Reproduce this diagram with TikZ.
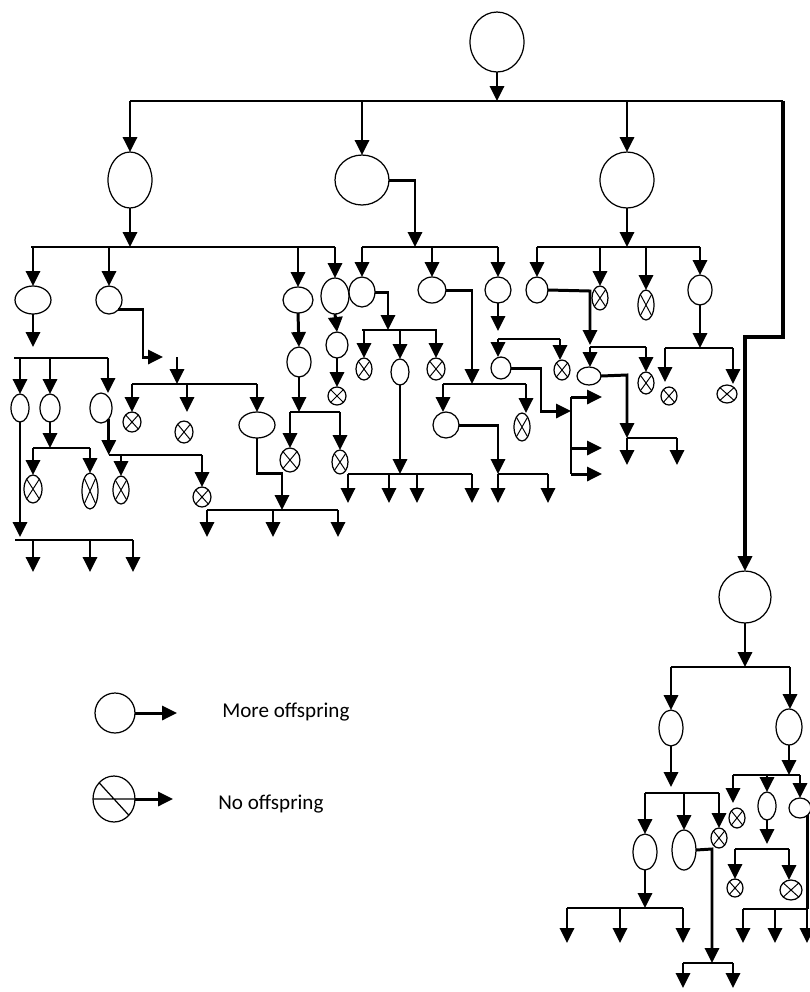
\documentclass[tikz,border=0pt]{standalone}
\usepackage{fontspec}
\setmainfont{Carlito}
\usetikzlibrary{arrows.meta,shapes.geometric}
\begin{document}
\begin{tikzpicture}[x=0.02cm,y=-0.02cm,
  ov/.style 2 args={draw, ellipse, line width=0.7pt, inner sep=0pt, outer sep=0pt, minimum width={#1*0.04cm}, minimum height={#2*0.04cm}},
  ox/.style 2 args={ov={#1}{#2}, path picture={\draw[line width=0.55pt] (path picture bounding box.north west) -- (path picture bounding box.south east) (path picture bounding box.north east) -- (path picture bounding box.south west);}},
  arr/.style={line width=1.7pt, -{Triangle[length=8.5pt,width=8pt]}},
  bar/.style={line width=1.1pt},
  stem/.style={line width=1.7pt},
  lbl/.style={font=\fontsize{12}{14}\selectfont, anchor=base west, inner sep=0pt}]
\useasboundingbox (0,0) rectangle (810,992);

% ---------- level 0 / 1 ----------
\node[ov={27}{30}] (R) at (497,42) {};
\node[ov={22}{28}] (A) at (130,180) {};
\node[ov={27}{25}] (B) at (362,180) {};
\node[ov={27}{28}] (C) at (627,180) {};
\node[ov={26}{26}] (E) at (745,597) {};

\coordinate (b0) at (130,101); \coordinate (b0r) at (783,101); \coordinate (kE) at (783,337);
\draw[bar] (b0) -- (b0r);
\draw[arr] (R.south) -- (R |- b0);
\draw[arr] (A |- b0) -- (A.north);
\draw[arr] (B |- b0) -- (B.north);
\draw[arr] (C |- b0) -- (C.north);
\draw[line width=2pt, -{Triangle[length=8.5pt,width=8pt]}] (b0r) -- (kE) -- (E |- kE) -- (E.north);

% ---------- A subtree ----------
\node[ov={18}{14}] (A1) at (33,300) {};
\node[ov={13}{14}] (A2) at (109,300) {};
\node[ov={15}{13}] (D4) at (298,300) {};
\node[ov={14}{18}] (D5) at (335,296) {};
\coordinate (bA) at (31,247); \coordinate (bAr) at (335,247);
\draw[bar] (bA) -- (bAr);
\draw[arr] (A.south) -- (A |- bA);
\draw[arr] (A1 |- bA) -- (A1.north);
\draw[arr] (A2 |- bA) -- (A2.north);
\draw[arr] (D4 |- bA) -- (D4.north);
\draw[arr] (bAr) -- (D5.north);

% A1
\node[ov={9}{14}] (A1a) at (20,408) {};
\node[ov={10}{14}] (A1b) at (50,408) {};
\node[ov={11}{15}] (A1c) at (101,408) {};
\coordinate (tA1) at (33,347);
\draw[arr] (A1.south) -- (tA1);
\coordinate (bA1) at (14,358); \coordinate (bA1r) at (108,358);
\draw[bar] (bA1) -- (bA1r);
\draw[arr] (A1a |- bA1) -- (A1a.north);
\draw[arr] (A1b |- bA1) -- (A1b.north);
\draw[arr] (bA1r) -- (bA1r |- A1c.north);

\coordinate (tA1a) at (20,537);
\draw[arr] (A1a.south) -- (tA1a);
\coordinate (bZ1) at (15,540); \coordinate (bZ1r) at (133,540);
\draw[bar] (bZ1) -- (bZ1r);
\coordinate (f1) at (33,572); \coordinate (f2) at (90,572); \coordinate (f3) at (133,572);
\draw[arr] (f1 |- bZ1) -- (f1);
\draw[arr] (f2 |- bZ1) -- (f2);
\draw[arr] (f3 |- bZ1) -- (f3);

\coordinate (bA1b) at (33,448); \coordinate (bA1br) at (90,448);
\draw[arr] (A1b.south) -- (A1b |- bA1b);
\draw[bar] (bA1b) -- (bA1br);
\node[ox={9}{14}] (X1) at (33,489) {};
\node[ox={8}{18}] (X2) at (90,491) {};
\draw[arr] (X1 |- bA1b) -- (X1.north);
\draw[arr] (X2 |- bA1b) -- (X2.north);

\coordinate (bA1c) at (109,455); \coordinate (bA1cr) at (202,455);
\draw[arr] (A1c.south east) -- (A1c.south east |- bA1c);
\draw[bar] (bA1c) -- (bA1cr);
\node[ox={8}{14}] (X3) at (121,490) {};
\node[ox={9}{10}] (X4) at (202,497) {};
\draw[arr] (X3 |- bA1c) -- (X3.north);
\draw[arr] (bA1cr) -- (X4.north);

% A2
\coordinate (kA2) at (143,357); \coordinate (tA2) at (163,357);
\draw[arr] (A2.south east) -| (kA2) -- (tA2);
\coordinate (sA2) at (177,357);
\coordinate (bA2) at (132,384); \coordinate (bA2r) at (257,384);
\draw[arr] (sA2) -- (sA2 |- bA2);
\draw[bar] (bA2) -- (bA2r);
\node[ox={9}{10}] (X5) at (132,422) {};
\node[ox={9}{11}] (X6) at (184,432) {};
\node[ov={18}{13}] (G) at (257,425) {};
\coordinate (tX6) at (187,412);
\draw[arr] (X5 |- bA2) -- (X5.north);
\draw[arr] (tX6 |- bA2) -- (tX6);
\draw[arr] (bA2r) -- (G.north);

\coordinate (kG) at (257,473); \coordinate (kG2) at (282,473);
\coordinate (bG) at (207,510); \coordinate (bGr) at (338,510);
\draw[arr] (G.south) -- (kG) -- (kG2) -- (kG2 |- bG);
\draw[bar] (bG) -- (bGr);
\coordinate (f4) at (207,537); \coordinate (f5) at (273,537); \coordinate (f6) at (338,537);
\draw[arr] (f4 |- bG) -- (f4);
\draw[arr] (f5 |- bG) -- (f5);
\draw[arr] (f6 |- bG) -- (f6);

% D4
\node[ov={12}{15}] (D4a) at (299,362) {};
\draw[arr] (D4.south) -- (D4a.north);
\coordinate (bD4) at (290,412); \coordinate (bD4r) at (340,412);
\draw[arr] (D4a.south) -- (D4a |- bD4);
\draw[bar] (bD4) -- (bD4r);
\node[ox={10}{12}] (X7) at (290,460) {};
\node[ox={8}{12}] (X8) at (340,462) {};
\draw[arr] (bD4) -- (X7.north);
\draw[arr] (bD4r) -- (X8.north);

% D5
\node[ov={11}{13}] (D5a) at (337,345) {};
\draw[arr] (D5.south) -- (D5a.north);
\node[ox={9}{9}] (X9) at (337,396) {};
\draw[arr] (D5a.south) -- (X9.north);

% ---------- B subtree ----------
\node[ov={13}{15}] (B1) at (362,292) {};
\node[ov={14}{13}] (B2) at (432,290) {};
\node[ov={13}{13}] (B3) at (498,290) {};
\coordinate (kB) at (415,180);
\coordinate (bB) at (362,247); \coordinate (bBr) at (498,247);
\draw[bar] (bB) -- (bBr);
\draw[arr] (B.east) -- (kB) -- (kB |- bB);
\draw[arr] (bB) -- (B1.north);
\draw[arr] (B2 |- bB) -- (B2.north);
\draw[arr] (bBr) -- (B3.north);

% B1
\coordinate (kB1) at (388,292);
\coordinate (bB1) at (362,330); \coordinate (bB1r) at (437,330);
\draw[arr] (B1.east) -- (kB1) -- (kB1 |- bB1);
\draw[bar] (bB1) -- (bB1r);
\node[ox={8}{11}] (X10) at (364,369) {};
\node[ov={9}{13}] (H) at (400,372) {};
\node[ox={9}{11}] (X11) at (436,369) {};
\draw[arr] (X10 |- bB1) -- (X10.north);
\draw[arr] (H |- bB1) -- (H.north);
\draw[arr] (X11 |- bB1) -- (X11.north);

\coordinate (bH) at (348,474); \coordinate (bHr) at (472,474);
\draw[arr] (H.south) -- (H |- bH);
\draw[bar] (bH) -- (bHr);
\coordinate (f7) at (348,503); \coordinate (f8) at (389,503);
\coordinate (f9) at (417,503); \coordinate (f10) at (472,503);
\draw[arr] (f7 |- bH) -- (f7);
\draw[arr] (f8 |- bH) -- (f8);
\draw[arr] (f9 |- bH) -- (f9);
\draw[arr] (f10 |- bH) -- (f10);

% B2
\coordinate (kB2) at (472,290);
\coordinate (bB2) at (443,384); \coordinate (bB2r) at (526,384);
\draw[arr] (B2.east) -- (kB2) -- (kB2 |- bB2);
\draw[bar] (bB2) -- (bB2r);
\node[ov={13}{13}] (I) at (446,425) {};
\node[ox={8}{14}] (X12) at (522,427) {};
\draw[arr] (bB2) -- (bB2 |- I.north);
\draw[arr] (bB2r) -- (bB2r |- X12.north);

\coordinate (kI) at (498,425);
\coordinate (bI) at (498,474); \coordinate (bIr) at (548,474);
\draw[arr] (I.east) -- (kI) -- (bI);
\draw[bar] (bI) -- (bIr);
\coordinate (f11) at (498,503); \coordinate (f12) at (548,503);
\draw[arr] (f11 |- bI) -- (f11);
\draw[arr] (f12 |- bI) -- (f12);

% B3
\coordinate (tB3) at (498,331);
\draw[arr] (B3.south) -- (tB3);
\coordinate (bB3) at (498,339); \coordinate (bB3r) at (560,339);
\draw[bar] (bB3) -- (bB3r);
\node[ov={10}{11}] (J) at (501,368) {};
\node[ox={8}{10}] (X13) at (562,370) {};
\draw[arr] (bB3) -- (bB3 |- J.north);
\draw[arr] (bB3r) -- (bB3r |- X13.north);

\coordinate (kJ) at (541,368); \coordinate (kJ2) at (541,411); \coordinate (tJ) at (571,411);
\draw[arr] (J.east) -- (kJ) -- (kJ2) -- (tJ);
\coordinate (bJ) at (571,397); \coordinate (bJb) at (571,474);
\draw[bar] (bJ) -- (bJb);
\coordinate (f13) at (602,397); \coordinate (f14) at (602,448); \coordinate (f15) at (602,474);
\draw[arr] (f13 -| bJ) -- (f13);
\draw[arr] (f14 -| bJ) -- (f14);
\draw[arr] (f15 -| bJ) -- (f15);

% ---------- C subtree ----------
\node[ov={11}{13}] (C1) at (537,290) {};
\node[ox={8}{12}] (C2) at (600,298) {};
\node[ox={8}{15}] (C3) at (646,305) {};
\node[ov={12}{15}] (C4) at (700,290) {};
\coordinate (bC) at (537,247); \coordinate (bCr) at (700,247);
\draw[bar] (bC) -- (bCr);
\draw[arr] (C.south) -- (C |- bC);
\draw[arr] (bC) -- (C1.north);
\draw[arr] (C2 |- bC) -- (C2.north);
\draw[arr] (C3 |- bC) -- (C3.north);
\draw[arr] (bCr) -- (C4.north);

% C1
\coordinate (kC1) at (590,291); \coordinate (tC1) at (590,345);
\draw[arr] (C1.east) -- (kC1) -- (tC1);
\coordinate (bC1) at (590,347); \coordinate (bC1r) at (646,347);
\draw[bar] (bC1) -- (bC1r);
\node[ov={12}{9}] (K) at (589,376) {};
\node[ox={8}{11}] (X14) at (646,383) {};
\draw[arr] (bC1) -- (bC1 |- K.north);
\draw[arr] (bC1r) -- (X14.north);

\coordinate (kK) at (627,375);
\coordinate (bK) at (627,438); \coordinate (bKr) at (677,438);
\draw[arr] (K.east) -- (kK) -- (bK);
\draw[bar] (bK) -- (bKr);
\coordinate (f16) at (627,465); \coordinate (f17) at (677,465);
\draw[arr] (f16 |- bK) -- (f16);
\draw[arr] (f17 |- bK) -- (f17);

% C4
\coordinate (bC4) at (665,348); \coordinate (bC4r) at (733,348);
\draw[arr] (C4.south) -- (C4 |- bC4);
\draw[bar] (bC4) -- (bC4r);
\node[ox={8}{9}] (X15) at (669,396) {};
\node[ox={10}{9}] (X16) at (727,394) {};
\coordinate (tX15) at (665,382); \coordinate (tX16) at (733,384);
\draw[arr] (bC4) -- (tX15);
\draw[arr] (bC4r) -- (tX16);

% ---------- E subtree ----------
\coordinate (bE) at (671,667); \coordinate (bEr) at (790,667);
\draw[arr] (E.south) -- (E |- bE);
\draw[bar] (bE) -- (bEr);
\node[ov={12}{18}] (F1) at (671,728) {};
\node[ov={13}{18}] (F2) at (789,727) {};
\draw[arr] (bE) -- (F1.north);
\draw[arr] (bEr) -- (bEr |- F2.north);

% F1
\coordinate (tF1) at (671,787);
\draw[arr] (F1.south) -- (tF1);
\coordinate (bF1) at (645,793); \coordinate (bF1r) at (719,793);
\draw[bar] (bF1) -- (bF1r);
\node[ov={12}{18}] (L1) at (645,852) {};
\node[ov={12}{20}] (L2) at (684,850) {};
\node[ox={8}{10}] (X17) at (719,838) {};
\draw[arr] (bF1) -- (L1.north);
\draw[arr] (L2 |- bF1) -- (L2.north);
\draw[arr] (bF1r) -- (X17.north);

\coordinate (bL1) at (567,908); \coordinate (bL1r) at (683,908);
\draw[arr] (L1.south) -- (L1 |- bL1);
\draw[bar] (bL1) -- (bL1r);
\coordinate (f18) at (567,943); \coordinate (f19) at (620,943); \coordinate (f20) at (683,943);
\draw[arr] (f18 |- bL1) -- (f18);
\draw[arr] (f19 |- bL1) -- (f19);
\draw[arr] (f20 |- bL1) -- (f20);

\coordinate (kL2) at (712,849);
\coordinate (bL2) at (683,963); \coordinate (bL2r) at (733,963);
\draw[arr] (L2.east) -- (kL2) -- (kL2 |- bL2);
\draw[bar] (bL2) -- (bL2r);
\coordinate (f21) at (683,988); \coordinate (f22) at (733,988);
\draw[arr] (f21 |- bL2) -- (f21);
\draw[arr] (f22 |- bL2) -- (f22);

% F2
\coordinate (bF2) at (733,775); \coordinate (bF2r) at (800,775);
\draw[arr] (F2.south) -- (F2 |- bF2);
\draw[bar] (bF2) -- (bF2r);
\node[ox={8}{10}] (X18) at (737,818) {};
\node[ov={9}{14}] (M) at (767,806) {};
\node[ov={11}{10}] (N) at (800,808) {};
\coordinate (tX18) at (733,803);
\draw[arr] (bF2) -- (tX18);
\draw[arr] (M |- bF2) -- (M.north);
\draw[arr] (bF2r) -- (N.north);

\coordinate (tM) at (767,844);
\draw[arr] (M.south) -- (tM);
\coordinate (bM) at (735,849); \coordinate (bMr) at (789,849);
\draw[bar] (bM) -- (bMr);
\node[ox={8}{9}] (X19) at (735,888) {};
\node[ox={11}{10}] (X20) at (791,890) {};
\draw[arr] (bM) -- (X19.north);
\draw[arr] (bMr) -- (bMr |- X20.north);

\coordinate (bN) at (743,909);
\draw[stem] (N.south east) -- (N.south east |- bN);
\draw[bar] (bN) -- (N.south east |- bN);
\coordinate (f23) at (743,943); \coordinate (f24) at (775,943); \coordinate (f25) at (807,943);
\draw[arr] (f23 |- bN) -- (f23);
\draw[arr] (f24 |- bN) -- (f24);
\draw[arr] (f25 |- bN) -- (f25);

% ---------- legend ----------
\node[ov={20}{20}] (LM) at (115,713) {};
\coordinate (tLM) at (177,713);
\draw[arr] (LM.east) -- (tLM);
\node[lbl] (LMt) at (222,717) {More offspring};
\node[ov={21}{23}] (LN) at (114,799) {};
\draw[line width=0.7pt] (LN.west) -- (LN.east) (LN.north west) -- (LN.south east);
\coordinate (tLN) at (173,799);
\draw[arr] (LN.east) -- (tLN);
\node[lbl] (LNt) at (218,809) {No offspring};
\end{tikzpicture}
\end{document}
